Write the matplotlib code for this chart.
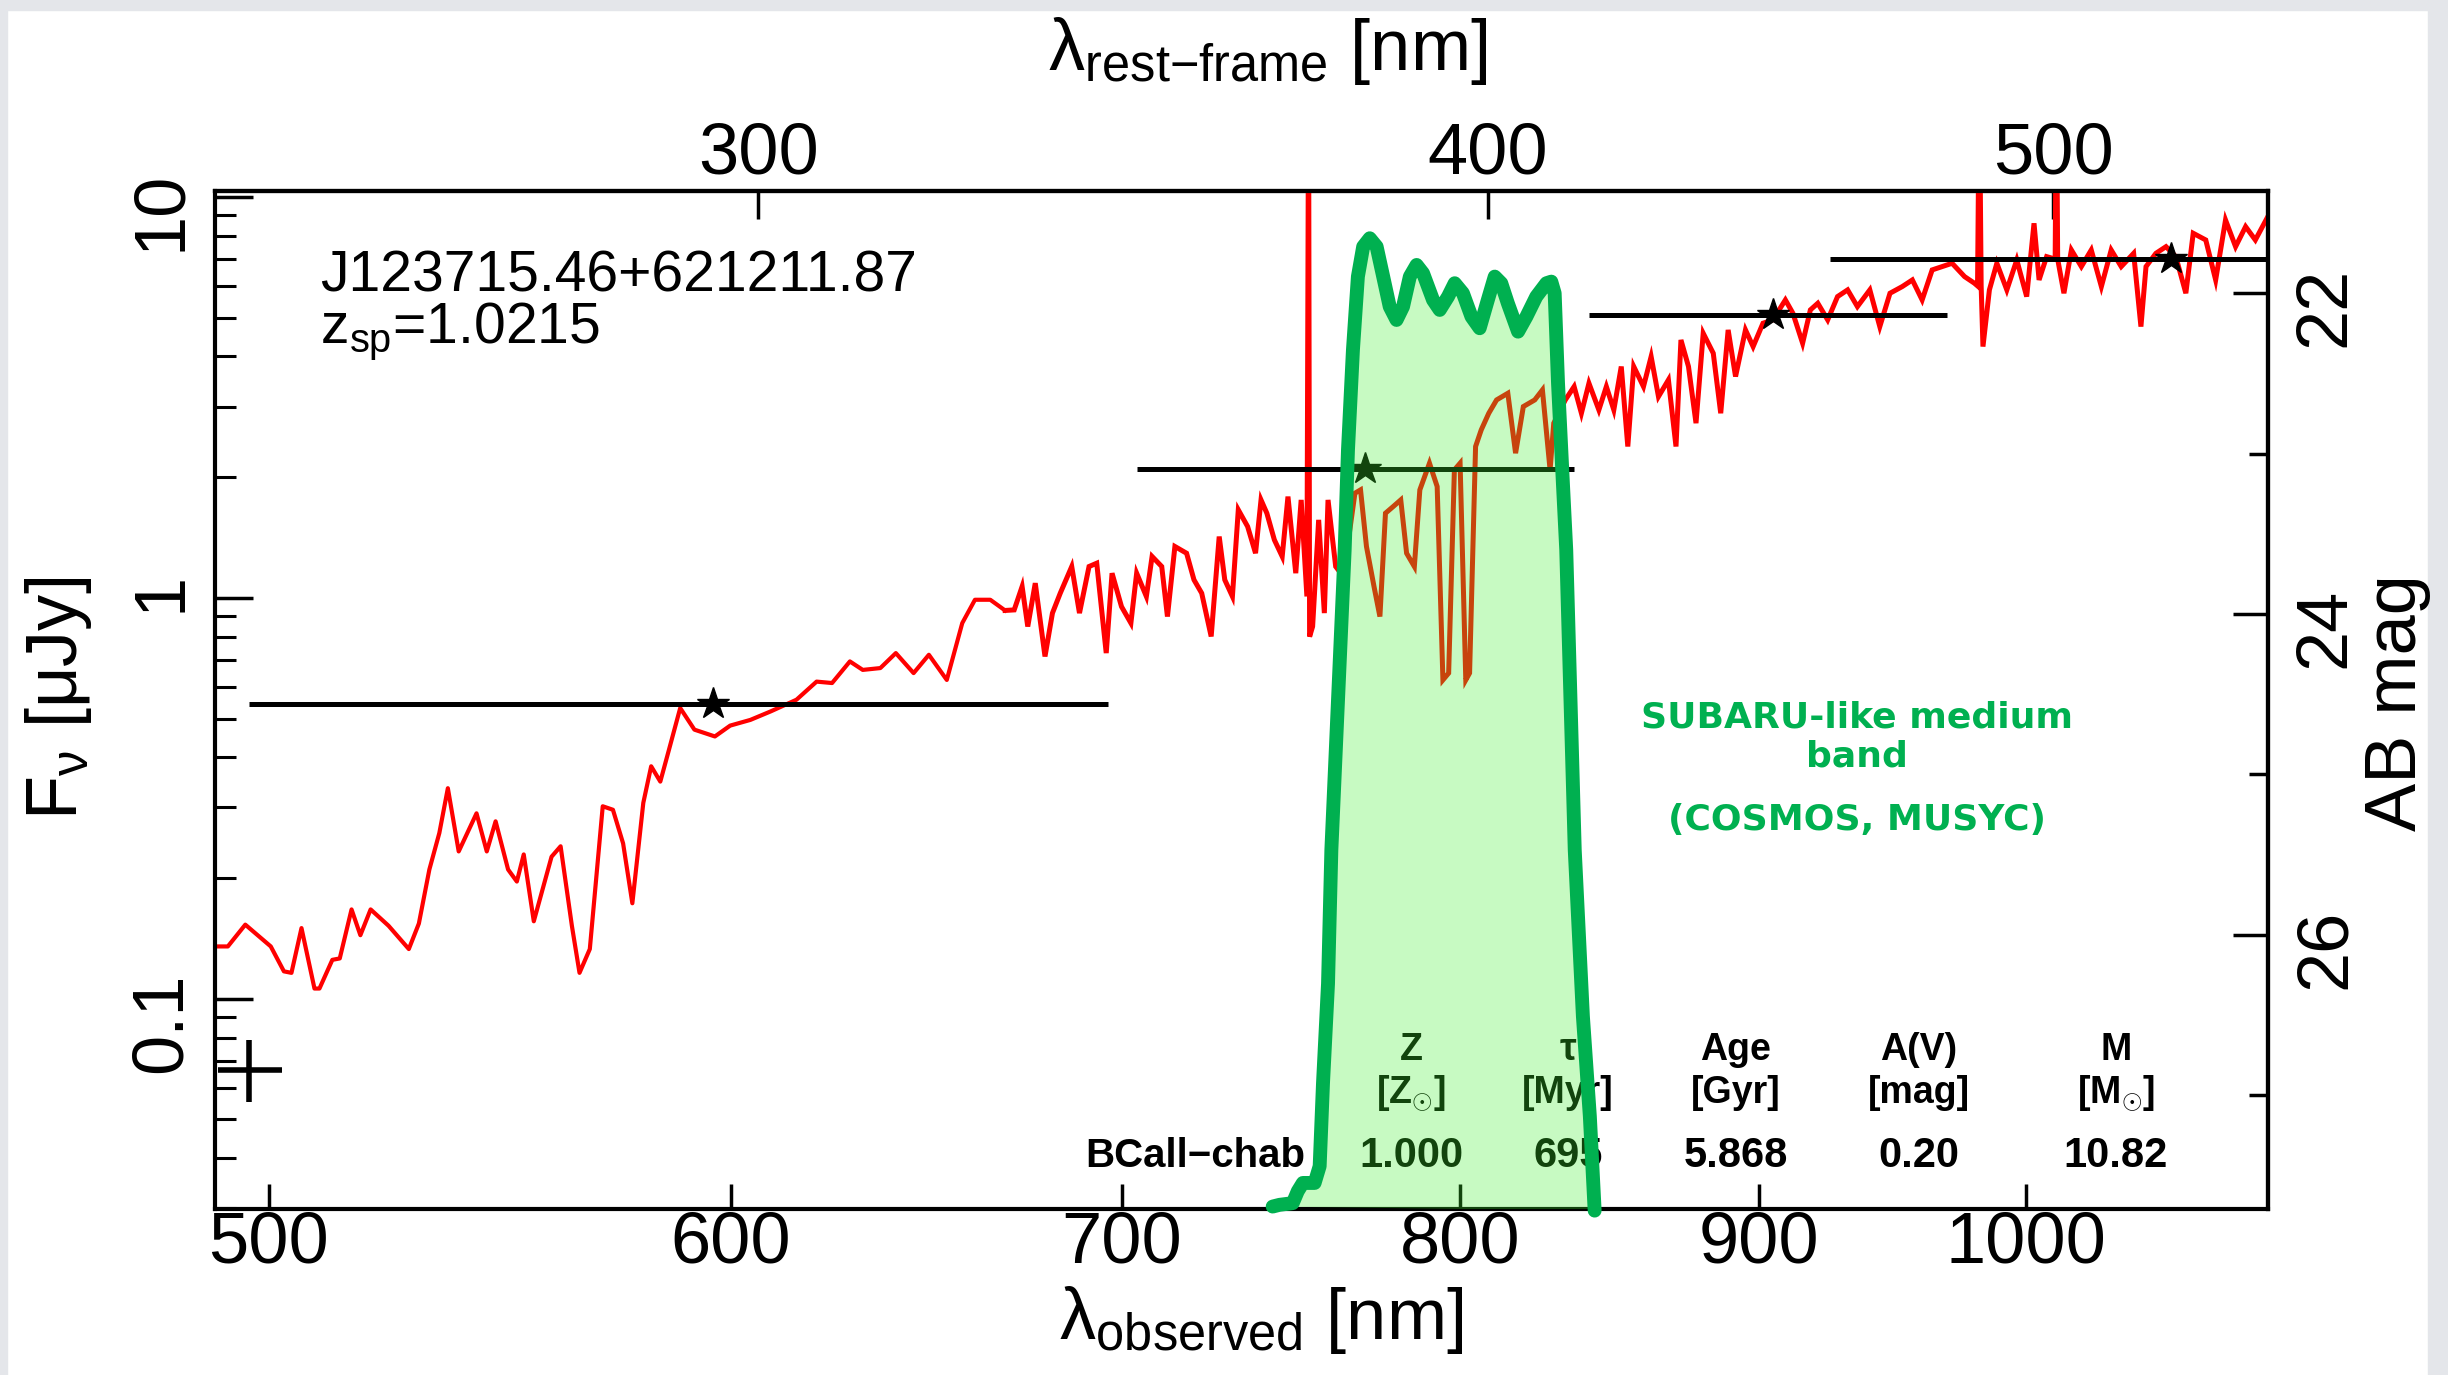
import numpy as np
import matplotlib.pyplot as plt
from matplotlib.ticker import FixedLocator, NullLocator, NullFormatter, FuncFormatter
from matplotlib.patches import Rectangle

plt.rcParams['font.family'] = ['Liberation Sans', 'DejaVu Sans']
plt.rcParams['mathtext.fontset'] = 'custom'
plt.rcParams['mathtext.rm'] = 'Liberation Sans'
plt.rcParams['mathtext.it'] = 'Liberation Sans:italic'
plt.rcParams['mathtext.bf'] = 'Liberation Sans:bold'

z_sp = 1.0215
obj_name = 'J123715.46+621211.87'

# observed spectrum (nm, micro-Jy); low-res part first, then the noisy high-res part
spec_wave = [489.5, 492.0, 495.4, 500.4, 503.0, 504.5, 506.5, 509.1, 510.1, 512.7,
             514.2, 516.6, 518.4, 520.5, 524.2, 528.4, 530.5, 532.7, 534.8, 536.6,
             538.9, 542.7, 544.9, 546.8, 549.5, 551.4, 552.9, 555.1, 559.0, 561.0,
             563.5, 565.2, 567.5, 570.4, 572.7, 575.0, 577.1, 579.6, 581.4, 583.5,
             585.5, 588.1, 591.4, 596.2, 599.8, 604.6, 609.5, 615.7, 620.6, 624.4,
             628.8, 632.0, 636.4, 640.3, 644.8, 648.7, 653.3, 657.3, 660.6, 664.6,
             668.5, 670.9, 673.0, 674.5, 676.5, 679.1, 681.1, 683.2, 686.3, 688.4,
             691.0, 693.1, 695.7, 697.3, 699.9, 702.5, 704.1, 706.8, 708.4, 711.1,
             712.7, 714.8, 718.1, 720.2, 722.4, 725.1, 727.4, 729.0, 731.2, 732.9,
             735.6, 737.9, 739.5, 741.2, 743.4, 745.7, 747.4, 749.7, 751.3, 753.0,
             753.5, 753.8, 754.7, 756.5, 758.2, 759.3, 761.6, 763.9, 767.4, 769.1,
             770.9, 773.2, 775.0, 776.7, 779.1, 781.4, 783.2, 785.6, 787.3, 790.3,
             792.7, 794.5, 796.3, 798.1, 799.9, 801.7, 802.9, 804.8, 806.6, 809.0,
             811.5, 815.1, 817.6, 820.1, 823.8, 826.3, 828.8, 830.0, 833.8, 836.7,
             839.1, 841.6, 844.9, 847.4, 849.9, 852.4, 854.6, 856.6, 859.9, 862.5,
             865.0, 868.4, 871.0, 872.7, 875.3, 877.9, 880.4, 883.9, 886.5, 889.1,
             891.7, 895.2, 897.9, 901.4, 904.9, 909.4, 912.1, 915.6, 918.4, 921.1,
             924.7, 928.3, 932.0, 935.6, 940.2, 943.9, 947.7, 952.3, 956.1, 959.8,
             963.6, 967.4, 971.2, 976.0, 979.8, 981.0, 981.7, 982.4, 983.1, 985.6,
             988.5, 992.4, 996.3, 1000.2, 1003.1, 1005.1, 1008.1, 1011.5, 1012.0, 1012.5,
             1015.0, 1018.0, 1022.0, 1026.0, 1030.1, 1034.1, 1038.2, 1043.3, 1046.3, 1048.4,
             1052.5, 1056.7, 1060.8, 1065.0, 1068.1, 1073.4, 1077.6, 1081.8, 1086.1, 1090.4,
             1094.6, 1100.0]
spec_flux = [0.135, 0.135, 0.153, 0.135, 0.117, 0.116, 0.150, 0.106, 0.106, 0.125,
             0.126, 0.167, 0.144, 0.167, 0.152, 0.133, 0.154, 0.210, 0.259, 0.335,
             0.233, 0.290, 0.233, 0.277, 0.210, 0.196, 0.229, 0.156, 0.226, 0.240,
             0.152, 0.116, 0.133, 0.302, 0.296, 0.244, 0.173, 0.308, 0.380, 0.348,
             0.418, 0.531, 0.469, 0.451, 0.480, 0.496, 0.521, 0.557, 0.618, 0.613,
             0.694, 0.661, 0.668, 0.728, 0.649, 0.721, 0.624, 0.865, 0.989, 0.989,
             0.930, 0.933, 1.067, 0.848, 1.088, 0.714, 0.916, 1.027, 1.197, 0.916,
             1.197, 1.220, 0.728, 1.152, 0.951, 0.865, 1.152, 1.008, 1.268, 1.197,
             0.898, 1.343, 1.292, 1.109, 1.027, 0.801, 1.422, 1.109, 1.008, 1.658,
             1.506, 1.292, 1.755, 1.626, 1.395, 1.268, 1.789, 1.152, 1.755, 1.008,
             20.0, 0.80, 0.848, 1.565, 0.916, 1.755, 1.197, 1.130, 1.824, 1.859,
             1.343, 1.067, 0.898, 1.626, 1.690, 1.755, 1.292, 1.197, 1.859, 2.167,
             1.895, 0.624, 0.649, 2.085, 2.167, 0.624, 0.649, 2.385, 2.624, 2.887,
             3.117, 3.238, 2.295, 3.000, 3.117, 3.301, 2.085, 2.727, 3.117, 3.365,
             2.887, 3.430, 2.943, 3.365, 2.943, 3.776, 2.385, 3.776, 3.365, 3.998,
             3.177, 3.497, 2.385, 4.399, 3.776, 2.727, 4.571, 4.075, 2.887, 4.660,
             3.565, 4.660, 4.234, 4.842, 4.935, 5.536, 5.128, 4.317, 5.227, 5.431,
             4.935, 5.643, 5.864, 5.328, 5.864, 4.749, 5.752, 5.977, 6.209, 5.536,
             6.577, 6.704, 6.833, 6.329, 6.093, 6.000, 20.0, 6.000, 4.234, 5.864,
             6.833, 5.864, 6.964, 5.643, 8.598, 6.209, 7.099, 7.000, 20.0, 7.000,
             5.752, 7.375, 6.704, 7.375, 5.977, 7.375, 6.704, 7.235, 4.749, 6.704,
             7.235, 7.517, 7.099, 5.752, 8.118, 7.812, 6.209, 8.762, 7.517, 8.433,
             7.812, 8.933]
n_lowres = 60  # points in the smooth low-resolution part

# broad-band photometry: star position and filter extent
phot_wave = [595.7, 770.5, 904.8, 1058.6]
phot_flux = [0.544, 2.09, 5.07, 7.02]
phot_lo = [496.2, 704.2, 841.7, 925.5]
phot_hi = [696.1, 836.7, 969.2, 1150.0]

# typical error cross
err_wave = [490.1, 496.1, 502.7]
err_flux = [0.0553, 0.0665, 0.0790]

# medium band filter outline (drawn on top)
filt_wave = [742.9, 744.9, 748.8, 750.3, 751.8, 755.3, 756.8, 757.8, 759.3, 760.3,
             764.3, 765.3, 766.8, 768.3, 769.9, 771.9, 774.0, 776.0, 778.0, 780.1,
             782.1, 784.2, 786.3, 788.3, 791.4, 793.5, 796.1, 798.2, 800.8, 803.5,
             806.1, 808.7, 810.9, 813.0, 815.1, 818.4, 821.1, 824.3, 827.6, 829.2,
             830.3, 831.4, 833.0, 834.1, 836.9, 839.6, 841.9, 843.5]
filt_level = [0.0303, 0.0306, 0.0309, 0.0331, 0.0347, 0.0347, 0.0382, 0.0616, 0.109, 0.235,
              1.317, 2.339, 4.154, 6.329, 7.517, 7.889, 7.517, 6.329, 5.327, 4.934,
              5.327, 6.329, 6.767, 6.452, 5.535, 5.227, 5.642, 6.093, 5.753, 5.029,
              4.705, 5.535, 6.329, 6.093, 5.432, 4.614, 5.029, 5.642, 6.093, 6.149,
              5.753, 3.431, 1.932, 1.317, 0.235, 0.0903, 0.0509, 0.0296]

# fit summary table
model_name = 'BCall\u2212chab'
table_heads = ['Z', '\u03c4', 'Age', 'A(V)', 'M']
table_units = [r'[Z$_{\odot}$]', '[Myr]', '[Gyr]', '[mag]', r'[M$_{\odot}$]']
table_vals = ['1.000', '695', '5.868', '0.20', '10.82']
table_x = [0.5826, 0.659, 0.7409, 0.830, 0.926]

band_note = ['SUBARU-like medium', 'band', '(COSMOS, MUSYC)']

fig = plt.figure(figsize=(24.48, 13.75), dpi=100)
fig.patch.set_facecolor('white')
for r in [(0, 0, 0.003, 1), (0.9918, 0, 0.0082, 1), (0, 0.993, 1, 0.007)]:
    fig.add_artist(Rectangle(r[:2], r[2], r[3], transform=fig.transFigure,
                             color='#e4e6ea', zorder=0))

ax = fig.add_axes([0.0878, 0.1204, 0.8386, 0.7407])
ax.set_xscale('log')
ax.set_yscale('log')
ax.set_xlim(489.5, 1100)
ax.set_ylim(0.0298, 10.35)

ax.plot(spec_wave[:n_lowres + 1], spec_flux[:n_lowres + 1], color='red', lw=3.0, zorder=2)
ax.plot(spec_wave[n_lowres:], spec_flux[n_lowres:], color='red', lw=3.6, zorder=2,
        solid_joinstyle='miter')
ax.hlines(phot_flux, phot_lo, phot_hi, color='black', lw=3.6, zorder=3)
ax.plot(phot_wave, phot_flux, ls='none', marker='*', ms=24, color='black', zorder=4)
ax.hlines(err_flux[1], err_wave[0], err_wave[2], color='black', lw=4)
ax.vlines(err_wave[1], err_flux[0], err_flux[2], color='black', lw=4)

ax.fill(filt_wave, filt_level, color='#3fee2d', alpha=0.29, lw=0, zorder=5)
ax.plot(filt_wave, filt_level, color='#00b050', lw=10, zorder=6,
        solid_joinstyle='round', solid_capstyle='round', clip_on=False)

# labels inside the panel
ax.text(0.051, 0.901, obj_name, transform=ax.transAxes, fontsize=41, va='baseline')
ax.text(0.051, 0.851, r'z$_{\mathrm{sp}}$=1.0215', transform=ax.transAxes,
        fontsize=41, va='baseline')

ax.text(0.5309, 0.042, model_name, transform=ax.transAxes, ha='right', va='baseline',
        fontsize=29, fontweight='bold', zorder=3)
for x, h, u, v in zip(table_x, table_heads, table_units, table_vals):
    ax.text(x, 0.147, h, transform=ax.transAxes, ha='center', va='baseline',
            fontsize=27, fontweight='bold', zorder=3)
    ax.text(x, 0.1046, u, transform=ax.transAxes, ha='center', va='baseline',
            fontsize=27, fontweight='bold', zorder=3)
    ax.text(x, 0.042, v, transform=ax.transAxes, ha='center', va='baseline',
            fontsize=30, fontweight='bold', zorder=3)

for txt, y in zip(band_note, [0.4737, 0.4345, 0.3726]):
    ax.text(0.800, y, txt, transform=ax.transAxes, ha='center', va='baseline',
            fontsize=26, fontweight='bold', color='#00b050', family='DejaVu Sans', zorder=7)

# axes styling
for s in ax.spines.values():
    s.set_linewidth(3)

ax.xaxis.set_major_locator(FixedLocator([500, 600, 700, 800, 900, 1000]))
ax.xaxis.set_minor_locator(NullLocator())
ax.xaxis.set_major_formatter(FuncFormatter(lambda v, p: '%d' % round(v)))
ax.yaxis.set_major_locator(FixedLocator([0.1, 1, 10]))
ax.yaxis.set_major_formatter(FuncFormatter(lambda v, p: '%g' % v))
ax.yaxis.set_minor_formatter(NullFormatter())

ax.tick_params(which='both', direction='in', top=False, right=False)
ax.tick_params(axis='x', which='major', length=18, width=2.5, labelsize=52, pad=1)
ax.tick_params(axis='y', which='major', length=27, width=2.5, labelsize=52,
               labelrotation=90, pad=14)
ax.tick_params(axis='y', which='minor', length=15, width=2.2)


def obs_to_rest(x):
    return np.asarray(x) / (1 + z_sp)


def rest_to_obs(x):
    return np.asarray(x) * (1 + z_sp)


def flux_to_ab(f):
    f = np.clip(np.asarray(f, dtype=float), 1e-6, None)
    return 23.9 - 2.5 * np.log10(f)


def ab_to_flux(m):
    return 10 ** ((23.9 - np.asarray(m, dtype=float)) / 2.5)


top = ax.secondary_xaxis('top', functions=(obs_to_rest, rest_to_obs))
top.xaxis.set_major_locator(FixedLocator([300, 400, 500]))
top.xaxis.set_minor_locator(NullLocator())
top.xaxis.set_major_formatter(FuncFormatter(lambda v, p: '%d' % round(v)))
top.tick_params(direction='in', length=20, width=2.5, labelsize=52, pad=2)
top.spines['top'].set_linewidth(3)

right = ax.secondary_yaxis('right', functions=(flux_to_ab, ab_to_flux))
right.yaxis.set_major_locator(FixedLocator([22, 24, 26]))
right.yaxis.set_minor_locator(FixedLocator([23, 25, 27]))
right.yaxis.set_major_formatter(FuncFormatter(lambda v, p: '%d' % round(v)))
right.yaxis.set_minor_formatter(NullFormatter())
right.tick_params(which='both', direction='in', width=2.5, labelsize=52,
                  labelrotation=90, pad=18)
right.tick_params(which='major', length=25)
right.tick_params(which='minor', length=14)
right.spines['right'].set_linewidth(3)

ax.text(0.5095, -0.127, '\u03bb' + r'$_{\mathrm{observed}}$ [nm]',
        transform=ax.transAxes, ha='center', va='baseline', fontsize=52)
ax.text(0.513, 1.119, '\u03bb' + r'$_{\mathrm{rest{-}frame}}$ [nm]',
        transform=ax.transAxes, ha='center', va='baseline', fontsize=52)
ax.text(-0.076, 0.502, 'F$_{\\mathrm{\u03bd}}$ [\u03bcJy]',
        transform=ax.transAxes, ha='center', va='center', rotation=90, fontsize=52)
ax.text(1.0633, 0.498, 'AB mag', transform=ax.transAxes, ha='center', va='center',
        rotation=90, fontsize=52)

fig.savefig('out.png', dpi=100, facecolor=fig.get_facecolor())
